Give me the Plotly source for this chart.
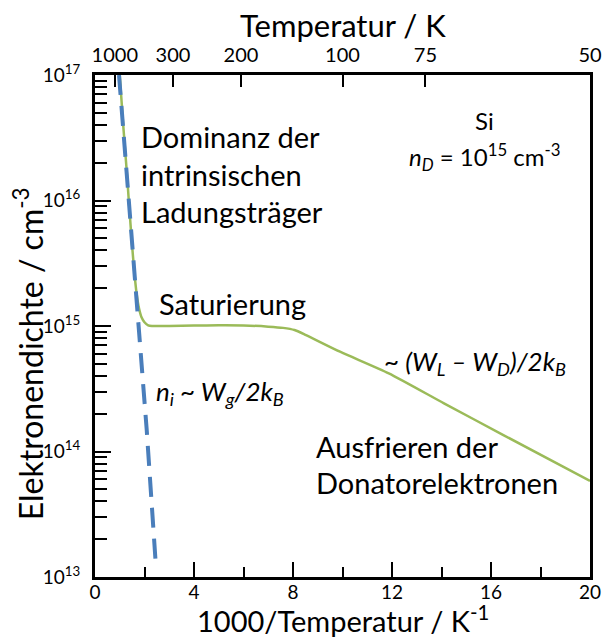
import plotly.graph_objects as go

# Electron density vs. inverse temperature for n-doped silicon
inv_T_total = [1.0, 1.14, 1.28, 1.38, 1.48, 1.58, 1.68, 1.78, 1.88, 2.0, 2.15, 2.3, 3.0, 4.0,
               5.0, 6.0, 7.0, 7.6, 8.06, 8.5, 9.9, 11.87, 14.1, 16.5, 20.0]
log_n_total = [17.0, 16.6, 16.24, 15.96, 15.69, 15.45, 15.26, 15.14, 15.07, 15.03, 15.005, 15.0,
               15.0, 15.003, 15.005, 15.004, 14.995, 14.985, 14.968, 14.93, 14.795, 14.623,
               14.384, 14.131, 13.765]

# Intrinsic carrier density n_i (dashed)
inv_T_intr = [0.97, 1.38, 1.78, 2.09, 2.47]
log_n_intr = [17.0, 16.0, 15.0, 14.17, 13.06]

# Axis ticks
x_ticks = [0, 4, 8, 12, 16, 20]
x_minor = [2, 6, 10, 14, 18]
top_labels = ["1000", "300", "200", "100", "75", "50"]
top_positions = [0.8, 3.15, 5.9, 10.0, 13.35, 20.0]
y_exponents = [13, 14, 15, 16, 17]

FONT = "Lato"
GREEN = "#9BBB59"
BLUE = "#4A7EBB"

n_total = [10 ** v for v in log_n_total]
n_intr = [10 ** v for v in log_n_intr]

fig = go.Figure()
fig.add_trace(go.Scatter(x=inv_T_total, y=n_total, mode="lines",
                         line=dict(color=GREEN, width=2.5, shape="spline", smoothing=0.6),
                         showlegend=False, hoverinfo="skip"))
fig.add_trace(go.Scatter(x=inv_T_intr, y=n_intr, mode="lines",
                         line=dict(color=BLUE, width=4, dash="20px,11px"),
                         showlegend=False, hoverinfo="skip"))
# invisible trace to activate the top temperature axis
fig.add_trace(go.Scatter(x=[0, 20], y=[1e13, 1e13], xaxis="x2", mode="lines",
                         line=dict(width=0), showlegend=False, hoverinfo="skip"))

y_minor = [m * 10 ** e for e in y_exponents[:-1] for m in range(2, 10)]

fig.update_layout(
    width=614, height=640,
    margin=dict(l=95, r=14, t=75, b=63),
    paper_bgcolor="white", plot_bgcolor="white",
    font=dict(family=FONT, color="black"),
    xaxis=dict(range=[0, 20], tickvals=x_ticks, ticktext=[str(v) for v in x_ticks],
               ticks="inside", ticklen=15, tickwidth=1.5, tickcolor="black",
               minor=dict(tickvals=x_minor, ticks="inside", ticklen=10, tickwidth=1.5,
                          tickcolor="black"),
               showline=True, linewidth=3, linecolor="black", mirror=True,
               showgrid=False, zeroline=False, tickfont=dict(size=19),
               ticklabelstandoff=-4),
    xaxis2=dict(range=[0, 20], overlaying="x", side="top",
                tickvals=top_positions, ticktext=top_labels,
                ticks="inside", ticklen=12, tickwidth=1.5, tickcolor="black",
                showline=True, linewidth=3, linecolor="black",
                showgrid=False, zeroline=False, tickfont=dict(size=20),
                ticklabelstandoff=2),
    yaxis=dict(type="log", range=[13, 17],
               tickvals=[10 ** e for e in y_exponents],
               ticktext=[f"10<sup>{e}</sup>" for e in y_exponents],
               ticks="inside", ticklen=16, tickwidth=1.5, tickcolor="black",
               minor=dict(tickvals=y_minor, ticks="inside", ticklen=12, tickwidth=1.5,
                          tickcolor="black"),
               showline=True, linewidth=3, linecolor="black", mirror=True,
               showgrid=False, zeroline=False, tickfont=dict(size=19),
               ticklabelstandoff=8),
)

def note(text, x, y, size, xanchor="left", italic=False, xref="x", yref="y",
         angle=0, yanchor="middle"):
    fig.add_annotation(text=f"<i>{text}</i>" if italic else text, x=x, y=y,
                       xref=xref, yref=yref, xanchor=xanchor, yanchor=yanchor,
                       showarrow=False, textangle=angle,
                       font=dict(family=FONT, size=size, color="black"))

# Region labels (y in log10 units)
note("Dominanz der", 1.78, 16.51, 29)
note("intrinsischen", 1.78, 16.21, 29)
note("Ladungsträger", 1.78, 15.91, 29)
note("Saturierung", 2.5, 15.18, 29)
note("Ausfrieren der", 8.83, 14.04, 29)
note("Donatorelektronen", 8.83, 13.75, 29)
note("Si", 15.72, 16.64, 24, xanchor="center")
note("<i>n<sub>D</sub></i> = 10<sup>15</sup> cm<sup>-3</sup>", 15.72, 16.35, 24, xanchor="center")
note("~ (W<sub>L</sub> – W<sub>D</sub>)/2k<sub>B</sub>", 15.37, 14.71, 26, xanchor="center", italic=True)
note("n<sub>i</sub> ~ W<sub>g</sub>/2k<sub>B</sub>", 5.07, 14.47, 26, xanchor="center", italic=True)

# Axis titles (bottom title rests on the lower page edge)
note("1000/Temperatur / K<sup>-1</sup>", 0.5, -0.126, 29, xanchor="center", xref="paper",
     yref="paper", yanchor="bottom")
note("Temperatur / K", 0.5, 1.1, 31, xanchor="center", xref="paper", yref="paper")
note("Elektronendichte / cm<sup>-3</sup>", -0.135, 0.444, 32, xanchor="center",
     xref="paper", yref="paper", angle=-90)

fig.write_html("out.html")
